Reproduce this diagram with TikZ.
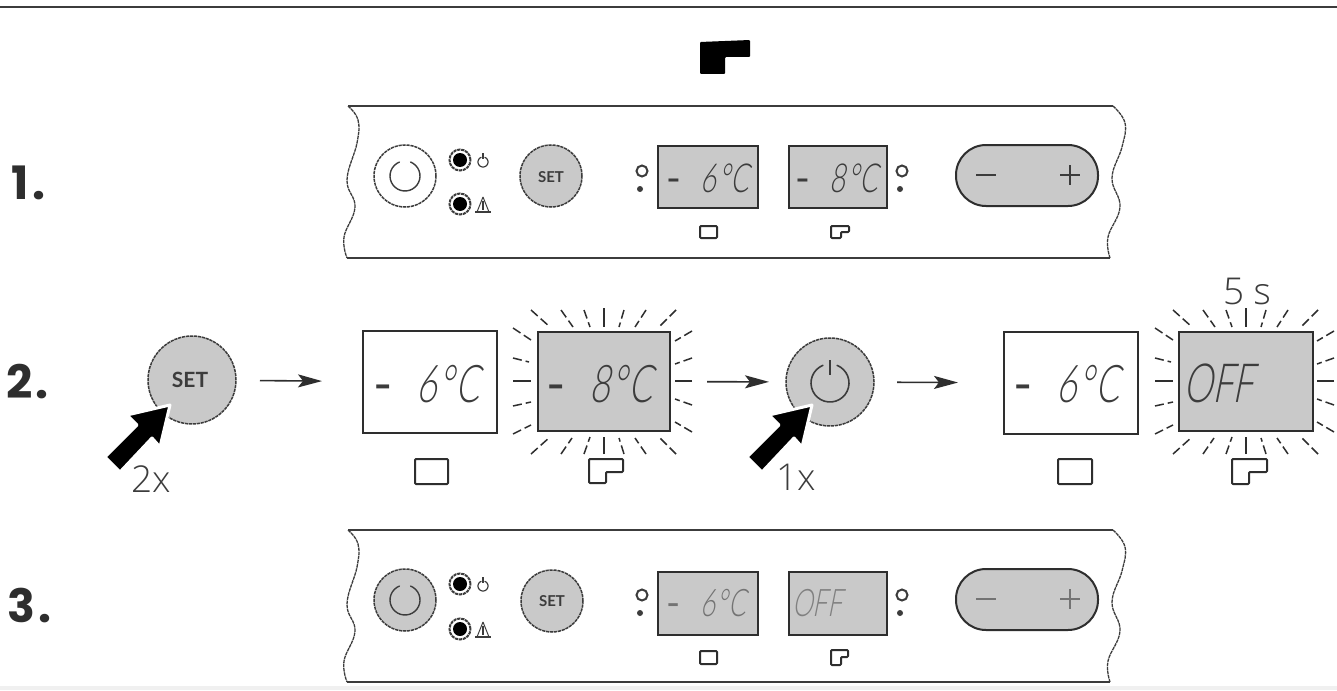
\documentclass[tikz,border=0pt]{standalone}
\usepackage{fontspec}
\usetikzlibrary{arrows.meta}
\setmainfont{Lato}
\newfontfamily\thinfont{Open Sans Light}
\newfontfamily\segfont[FakeSlant=0.2,FakeStretch=0.68]{Lato Light}
\newfontfamily\numfont{Poppins}
\definecolor{lcd}{HTML}{C9C9C9}
\definecolor{ink}{HTML}{2E2E2E}
\definecolor{soft}{HTML}{3C3C3C}
\tikzset{
  rim/.style={draw=soft,line width=1.5pt,dash pattern=on 3.2pt off .8pt,circle,inner sep=0,outer sep=0},
  keycap/.style={rim,fill=lcd,minimum size=#1},
  ringcap/.style={rim,fill=white,minimum size=#1},
  lcdbox/.style n args={2}{draw=ink,line width=2.2pt,rectangle,minimum width=#1,minimum height=#2,inner sep=0,outer sep=0},
  pill/.style={draw=ink,line width=2pt,fill=lcd,rectangle,rounded corners=30pt,minimum width=142pt,minimum height=61pt,inner sep=0,outer sep=0},
  seg/.style={anchor=base west,inner sep=0,outer sep=0,text=#1},
  seg/.default=soft,
  lab/.style={anchor=base west,inner sep=0,outer sep=0,text=ink,font=\numfont\bfseries\fontsize{46}{46}\selectfont},
  hand/.style={anchor=base west,inner sep=0,outer sep=0,text=soft,font=\thinfont\fontsize{37}{37}\selectfont},
  settext/.style={text=soft,inner sep=0,outer sep=0,font=\bfseries\fontsize{#1}{#1}\selectfont},
  flow/.style={draw=ink,line width=1.6pt,-{Stealth[length=24pt,width=13pt,inset=5pt]}},
  rule/.style={draw=soft,line width=2pt},
  edge/.style={draw=soft,line width=1.3pt,dash pattern=on 3.5pt off .7pt},
  iconline/.style={draw=ink,line width=#1,line join=round,rounded corners=1pt,fill=white},
  ray/.style={draw=ink,line width=1.5pt,line cap=butt,dash pattern=on 9pt off 4pt},
  rayaxis/.style={draw=ink,line width=1.6pt},
}
\newcommand{\segsize}[1]{\segfont\fontsize{#1}{#1}\selectfont}
% reading: size, gap after the minus, figure
\newcommand{\reading}[3]{{\normalfont\fontsize{#1}{#1}\selectfont -}\hspace{#2}\segsize{#1}#3\kern.04em°\kern.03em C}
\newcommand{\powermark}[4]{% x y r linewidth
  \draw[draw=soft,line width=#4,line cap=round] plot[smooth,domain=22:338,samples=28] ({#1+#3*sin(\x)},{#2-#3*cos(\x)});
}
\newcommand{\panelframe}[1]{%
  \begin{scope}[shift={(0,#1)}]
    \draw[rule] (348,106) -- (1113,106);
    \draw[rule] (347,258) -- (1110,258);
    \draw[edge] plot[smooth,tension=.7] coordinates {(348,106) (358,120) (357,143) (347,180) (355,207) (344,237) (347,258)};
    \draw[edge] plot[smooth,tension=.7] coordinates {(1113,106) (1125,123) (1122,147) (1112,178) (1120,207) (1108,237) (1110,258)};
  \end{scope}}
\newcommand{\lamps}[2]{% y upper, y lower
  \node[ringcap=21pt,line width=2pt] at (460,#1) {};
  \fill[black] (460,#1) circle[radius=7];
  \node[ringcap=21pt,line width=2pt] at (460,#2) {};
  \fill[black] (460,#2) circle[radius=7];
  \powermark{483}{#1+2}{5}{1.2pt}
  \draw[soft,line width=1.2pt] (483,#1-7) -- (483,#1-1);
  \draw[soft,line width=1.2pt] (475,#2+8) -- (491,#2+8);
  \draw[soft,line width=1pt] (483,#2-7) -- (477,#2+8);
  \draw[soft,line width=1pt] (483,#2-7) -- (489,#2+8);
  \draw[soft,line width=1.8pt] (483,#2-3) -- (483,#2+6);
}
\newcommand{\sidemark}[2]{% x ring, y ring
  \draw[soft,line width=2pt] (#1,#2) circle[radius=5.5];
  \fill[soft] (#1-2,#2+18) circle[radius=3];
}
\newcommand{\boxicon}[5]{% x0 y0 x1 y1 lw
  \draw[iconline=#5] (#1,#2) rectangle (#3,#4);
}
\newcommand{\freezericon}[7]{% x0 y0 x1 y1 xn yn lw
  \draw[iconline=#7] (#1,#2) -- (#3,#2) -- (#3,#6) -- (#5,#6) -- (#5,#4) -- (#1,#4) -- cycle;
}
\newcommand{\rays}[2]{%
  \begin{scope}[shift={(#1,#2)}]
    \foreach \ax/\ay/\bx/\by in {
      -73/-71/-54/-54,-43/-71/-31/-54,-20/-71/-14/-54,20/-71/15/-54,42/-71/31/-54,72/-71/55/-54,
      88/-50/71/-40,88/-23/71/-17,88/24/71/18,88/51/71/41,
      -91/-53/-73/-41,-91/-23/-75/-19,-91/25/-73/21,-91/53/-73/44,
      -73/73/-54/56,-43/73/-32/57,-20/73/-14/56,20/73/15/57,42/73/31/57,72/73/55/56}
      {\draw[ray] (\ax,\ay) -- (\bx,\by);}
    \draw[rayaxis] (0,-73) -- (0,-54);
    \draw[rayaxis] (0,73) -- (0,56);
    \draw[rayaxis] (-91,0) -- (-73,0);
    \draw[rayaxis] (88,0) -- (71,0);
  \end{scope}}
\newcommand{\pressarrow}[1]{%
  \begin{scope}[shift={(#1,0)}]
    \filldraw[fill=black,draw=white,line width=3pt,line join=round]
      (170,405) -- (127,415) -- (137,425) -- (105,457) -- (120,472) -- (152,438) -- (160,447) -- cycle;
  \end{scope}}
\begin{document}
\begin{tikzpicture}[x=1pt,y=-1pt]
\useasboundingbox (0,0) rectangle (1337,690);
\fill[white] (0,0) rectangle (1337,690);
\fill[black!6] (0,686) rectangle (1337,690);
\draw[draw=soft,line width=2.5pt] (0,7) -- (1337,7);
% top freezer symbol
\fill[black,rounded corners=1pt] (700,42) -- (750,40) -- (750,57) -- (725,57) -- (725,74) -- (700,74) -- cycle;
% step numbers
\node[lab] (n1) at (12,199) {1\kern3pt.};
\node[lab] (n2) at (6,398) {2\kern3pt.};
\node[lab] (n3) at (8,622) {3\kern3pt.};

% ---------- panel 1
\panelframe{0}
\node[ringcap=62pt] (p1pow) at (405,176) {};
\powermark{405}{176}{15}{1.4pt}
\lamps{160}{204}
\node[keycap=62pt] (p1set) at (551,176) {};
\node[settext=15] (p1settxt) at (551,177) {SET};
\sidemark{642}{171}
\node[lcdbox={100pt}{62pt},fill=lcd] (p1a) at (708,177) {};
\node[seg] (p1atxt) at (666,192) {\reading{40}{20pt}{6}};
\node[lcdbox={98pt}{62pt},fill=lcd] (p1b) at (838,177) {};
\node[seg] (p1btxt) at (795,192) {\reading{40}{20pt}{8}};
\sidemark{902}{171}
\node[pill] (p1pill) at (1027,175.5) {};
\draw[soft,line width=1.8pt] (976,175) -- (996,175);
\draw[soft,line width=1.8pt] (1060,175) -- (1080,175) (1070,165) -- (1070,185);
\boxicon{700}{226}{717}{238}{2pt}
\freezericon{831}{226}{849}{238}{841}{232}{2pt}

% ---------- step 2
\node[keycap=88pt] (sbtn) at (192,380) {};
\node[settext=21] (sbtntxt) at (190,380) {SET};
\pressarrow{0}
\node[hand] (twox) at (131,492) {2x};
\node[lcdbox={134pt}{102pt}] (da) at (430,382) {};
\node[seg] (datxt) at (373,402) {\reading{52}{24pt}{6}};
\boxicon{415}{459}{448}{484}{2pt}
\rays{604}{381}
\node[lcdbox={132pt}{99pt},fill=lcd] (db) at (604,381.5) {};
\node[seg] (dbtxt) at (546,402) {\reading{52}{24pt}{8}};
\freezericon{589}{459}{623}{483}{606}{472}{2pt}
\node[keycap=88pt] (pbtn) at (830,382) {};
\powermark{830}{383}{19}{1.6pt}
\draw[soft,line width=1.6pt] (830,360) -- (830,375);
\pressarrow{642}
\node[hand] (onex) at (776,490) {1x};
\node[lcdbox={134pt}{102pt}] (dc) at (1071,383) {};
\node[seg] (dctxt) at (1013,402) {\reading{52}{24pt}{6}};
\boxicon{1058}{459}{1092}{484}{2pt}
\rays{1246}{381}
\node[lcdbox={134pt}{99pt},fill=lcd] (dd) at (1246,381.5) {};
\node[seg] (ddtxt) at (1183,402) {\segsize{54}OFF};
\freezericon{1232}{459}{1267}{484}{1249}{472}{2pt}
\node[hand] (fives) at (1223,304) {5 s};
\draw[flow,shorten <=24pt,shorten >=41pt] (sbtn) -- (da);
\draw[flow,shorten <=37pt,shorten >=17pt] (db) -- (pbtn);
\draw[flow,shorten <=23pt,shorten >=46pt] (pbtn) -- (dc);

% ---------- panel 3
\panelframe{424}
\node[keycap=62pt] (p3pow) at (405,600) {};
\powermark{405}{600}{15}{1.4pt}
\lamps{584}{629}
\node[keycap=62pt] (p3set) at (552,601) {};
\node[settext=15] (p3settxt) at (552,601) {SET};
\sidemark{642}{595}
\node[lcdbox={100pt}{63pt},fill=lcd] (p3a) at (708,603.5) {};
\node[seg=black!55] (p3atxt) at (666,616) {\reading{38}{20pt}{6}};
\node[lcdbox={98pt}{63pt},fill=lcd] (p3b) at (838,603.5) {};
\node[seg=black!50] (p3btxt) at (792,616) {\segsize{38}OFF};
\sidemark{902}{595}
\node[pill] (p3pill) at (1027,599.5) {};
\draw[black!55,line width=2.2pt] (976,599) -- (996,599);
\draw[black!55,line width=1.8pt] (1060,599) -- (1080,599) (1070,589) -- (1070,609);
\boxicon{700}{651}{717}{664}{2pt}
\freezericon{831}{650}{848}{665}{841}{657}{2pt}
\end{tikzpicture}
\end{document}
